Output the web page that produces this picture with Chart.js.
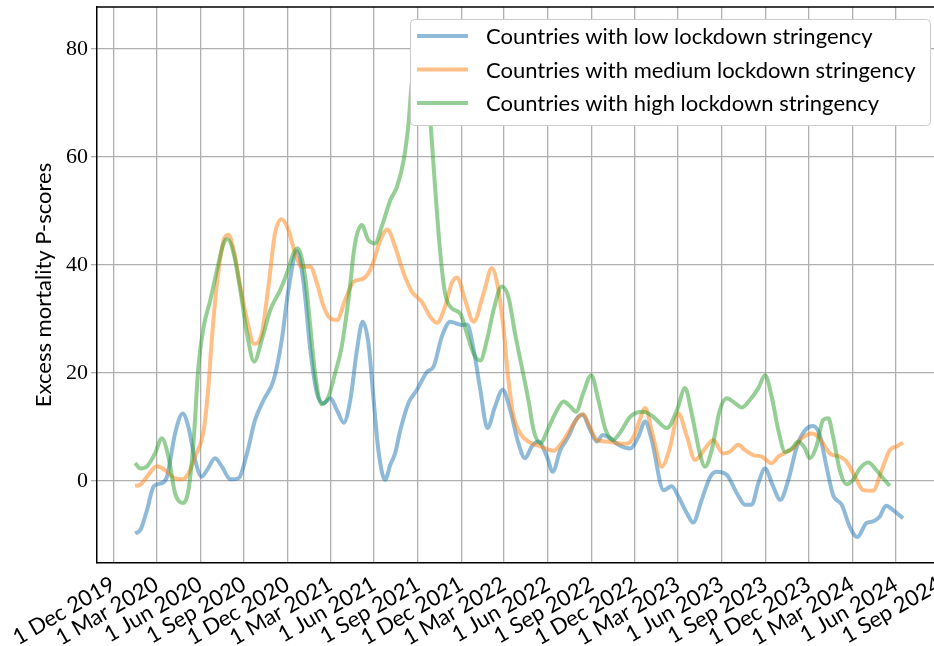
<!DOCTYPE html>
<html lang="en">
<head>
<meta charset="UTF-8">
<title>Excess mortality P-scores by lockdown stringency</title>
<script src="https://cdn.jsdelivr.net/npm/chart.js"></script>
<style>
  html, body { margin: 0; padding: 0; background: #fff; overflow: hidden; }
  #wrap { width: 934px; height: 646px; overflow: hidden; position: relative; }
  #chart { display: block; }
</style>
</head>
<body>
<div id="wrap"><canvas id="chart" width="960" height="646"></canvas></div>
<script>
// x axis ticks (every 3 months) and visible date range
const tickDates = ['2019-12-01','2020-03-01','2020-06-01','2020-09-01','2020-12-01','2021-03-01','2021-06-01',
  '2021-09-01','2021-12-01','2022-03-01','2022-06-01','2022-09-01','2022-12-01','2023-03-01','2023-06-01',
  '2023-09-01','2023-12-01','2024-03-01','2024-06-01','2024-09-01'];
const tickLabels = ['1 Dec 2019','1 Mar 2020','1 Jun 2020','1 Sep 2020','1 Dec 2020','1 Mar 2021','1 Jun 2021',
  '1 Sep 2021','1 Dec 2021','1 Mar 2022','1 Jun 2022','1 Sep 2022','1 Dec 2022','1 Mar 2023','1 Jun 2023',
  '1 Sep 2023','1 Dec 2023','1 Mar 2024','1 Jun 2024','1 Sep 2024'];
const xRange = ['2019-10-28', '2024-09-12'];
const yTicks = [0, 20, 40, 60, 80];

// low stringency
const lowDates = ['2020-01-16','2020-01-27','2020-02-10','2020-02-24','2020-03-12','2020-03-23','2020-04-09','2020-04-25','2020-05-07','2020-05-21',
  '2020-06-04','2020-06-15','2020-07-02','2020-07-16','2020-08-03','2020-08-20','2020-09-07','2020-09-24','2020-10-12','2020-11-02',
  '2020-11-19','2020-12-03','2020-12-21','2021-01-04','2021-01-18','2021-02-01','2021-02-15','2021-03-01','2021-03-15','2021-03-29',
  '2021-04-12','2021-04-26','2021-05-08','2021-05-20','2021-05-31','2021-06-10','2021-06-24','2021-07-05','2021-07-15','2021-07-26',
  '2021-08-12','2021-08-30','2021-09-20','2021-10-04','2021-10-21','2021-11-08','2021-12-02','2021-12-13','2021-12-27','2022-01-10',
  '2022-01-25','2022-02-10','2022-02-26','2022-03-14','2022-03-31','2022-04-14','2022-04-28','2022-05-12','2022-05-30','2022-06-11',
  '2022-06-27','2022-07-14','2022-08-01','2022-08-13','2022-08-29','2022-09-12','2022-09-24','2022-10-10','2022-10-27','2022-11-21',
  '2022-12-08','2022-12-22','2023-01-05',
  '2023-01-30','2023-02-16','2023-03-02','2023-03-20','2023-04-02','2023-04-20','2023-05-08','2023-05-22','2023-06-12','2023-07-03',
  '2023-07-20','2023-08-03','2023-08-17','2023-08-31','2023-09-17','2023-10-02','2023-10-19','2023-11-06','2023-11-23','2023-12-10',
  '2023-12-24','2024-01-07','2024-01-21','2024-02-08','2024-02-25','2024-03-12','2024-03-31','2024-04-14','2024-04-28','2024-05-11',
  '2024-05-26','2024-06-16'];
const lowValues = [-9.7,-9.1,-5.4,-1.0,-0.4,0.8,8.8,12.5,10,3.9,
  0.8,2.0,4.2,2.7,0.3,0.5,5.1,11.3,15,18.7,
  26.1,35.4,42.5,36.6,24.3,16.2,14.4,15.3,13.1,10.8,
  15,24.3,29.5,25.5,15,5.7,0.2,3.0,5.1,9.4,
  14.4,16.9,20.2,21.2,26.7,29.5,28.9,29,24.3,16.9,
  9.8,13.8,16.9,13.1,7.0,4.2,6.4,7.3,4.5,1.7,
  5.7,8.2,11.6,12.2,9.4,7.3,8.5,7.9,6.7,6.0,
  8.2,11.0,7.6,
  -1.7,-1.0,-2.9,-6.0,-7.7,-3.5,0.8,1.7,1.1,-2.3,
  -4.4,-4.4,-0.4,2.3,-1.0,-3.5,0.2,6.4,9.4,10.2,
  8.5,2.7,-2.6,-4.4,-8.5,-10.4,-7.8,-7.5,-6.6,-4.6,
  -5.4,-6.9];

// medium stringency
const mediumDates = ['2020-01-16','2020-01-27','2020-02-10','2020-03-02','2020-03-19','2020-04-06','2020-04-23','2020-05-07','2020-05-21','2020-06-08',
  '2020-06-18','2020-06-25','2020-07-06','2020-07-20','2020-07-30','2020-08-10','2020-08-24','2020-09-07','2020-09-22','2020-10-08',
  '2020-10-22','2020-11-05','2020-11-19','2020-12-03','2020-12-17','2020-12-31','2021-01-18','2021-02-01','2021-02-15','2021-03-01',
  '2021-03-15','2021-04-01','2021-04-19','2021-05-10','2021-05-27','2021-06-14','2021-06-29','2021-07-15','2021-08-02','2021-08-19',
  '2021-09-09','2021-09-27','2021-10-11','2021-10-28','2021-11-11','2021-11-22','2021-12-09','2021-12-27','2022-01-17','2022-02-03',
  '2022-02-17','2022-02-28','2022-03-10','2022-03-21','2022-04-04','2022-04-21','2022-05-16','2022-06-13','2022-06-27','2022-07-11',
  '2022-07-28','2022-08-13','2022-08-29','2022-09-12','2022-10-03','2022-10-24','2022-11-14','2022-11-28','2022-12-12','2022-12-22',
  '2023-01-08','2023-01-26','2023-02-13','2023-03-02','2023-03-20','2023-04-06','2023-04-27','2023-05-14','2023-06-04','2023-06-18',
  '2023-07-06','2023-07-20','2023-08-06','2023-08-24','2023-09-14','2023-09-28','2023-10-16','2023-10-29','2023-11-16','2023-12-07',
  '2023-12-24','2024-01-14','2024-02-04','2024-02-18','2024-03-07','2024-03-24','2024-04-14','2024-05-02','2024-05-19','2024-06-02',
  '2024-06-16'];
const mediumValues = [-0.9,-0.7,0.8,2.7,2.0,0.6,0.3,1.4,4.5,9.4,
  17.5,26.1,36.6,44.6,45.6,42.8,36,29.8,25.4,27.3,
  36,45.9,48.5,46.5,42.2,39.7,39.7,36.6,32.3,30.1,
  29.8,33.5,36.9,37.5,39.7,44.6,46.6,43.4,38.5,35.1,
  33.2,30.4,29.3,32.3,36.6,37.7,33.5,29.5,34.8,39.4,
  35.4,28,18.7,11.9,8.8,7.3,6.4,5.6,6.7,8.5,
  11.0,12.4,9.8,7.6,7.3,7.0,6.9,8.2,11.6,13.5,
  8.2,2.65,6.4,12.5,8.2,3.9,6.0,7.6,5.1,5.4,
  6.7,5.7,4.8,4.5,3.3,4.5,5.4,6.0,7.9,8.8,
  7.9,5.1,4.5,3.6,0.8,-1.7,-1.8,2.0,5.7,6.4,
  7.1];

// high stringency
const highDates = ['2020-01-16','2020-01-27','2020-02-10','2020-02-27','2020-03-12','2020-03-26','2020-04-09','2020-04-25','2020-05-07','2020-05-18',
  '2020-05-28','2020-06-08','2020-06-22','2020-07-06','2020-07-20','2020-07-28','2020-08-10','2020-08-24','2020-09-07','2020-09-22',
  '2020-10-08','2020-10-26','2020-11-16','2020-11-30','2020-12-14','2020-12-22','2021-01-07','2021-01-18','2021-01-28','2021-02-11',
  '2021-02-25','2021-03-11','2021-03-25','2021-04-08','2021-04-22','2021-05-06','2021-05-20','2021-06-03','2021-06-17','2021-07-05',
  '2021-07-19','2021-08-02','2021-08-12','2021-08-19','2021-09-04','2021-09-16','2021-09-27','2021-10-07','2021-10-18','2021-10-28',
  '2021-11-11','2021-11-29','2021-12-13','2021-12-27','2022-01-10','2022-01-24','2022-02-07','2022-02-24','2022-03-10','2022-03-24',
  '2022-04-07','2022-04-21','2022-05-02','2022-05-16','2022-06-02','2022-06-20','2022-07-04','2022-07-18','2022-07-30','2022-08-14',
  '2022-08-31','2022-09-15','2022-09-29','2022-10-16','2022-10-31','2022-11-21','2022-12-18','2023-01-08','2023-02-06','2023-02-27',
  '2023-03-16','2023-03-30','2023-04-16','2023-04-27','2023-05-11','2023-05-28','2023-06-12','2023-06-29','2023-07-13','2023-07-30',
  '2023-08-17','2023-08-31','2023-09-14','2023-09-28','2023-10-12','2023-10-26','2023-11-09','2023-11-23','2023-12-03','2023-12-17',
  '2023-12-31','2024-01-11','2024-01-21','2024-02-04','2024-02-18','2024-03-03','2024-03-17','2024-04-04','2024-04-21','2024-05-05',
  '2024-05-19'];
const highValues = [3.3,2.3,2.7,5.1,7.9,4.5,-2.3,-4.1,-1.7,7.6,
  21.2,28.6,33.5,39.1,44,44.8,42.2,35.4,27.3,22.1,
  26.1,31.7,35.4,38.5,42.2,43.1,37.8,28.6,19.9,14.2,
  15.6,19.9,24.9,33.5,44,47.4,44.6,44,47.1,52,
  54.5,59.4,66,73.6,82,78,66.9,54.5,42.2,34.8,
  32,31,27.3,23.6,22.3,26.1,31.7,36,34.1,27.3,
  21.2,15,9.4,7.0,9.8,13.1,14.7,13.8,12.8,16.2,
  19.6,15,9.8,7.6,9,11.9,12.8,11.9,9.8,13.1,
  17.2,12.5,5.1,2.65,5.7,13.1,15.3,14.4,13.6,15,
  17.2,19.6,15.6,9.4,5.4,6.0,7.3,6.0,4.2,6.4,
  11.3,11.6,8.2,2.0,-0.6,0.2,2.3,3.4,2.0,0.5,
  -0.9];

const toDay = s => Date.UTC(+s.slice(0, 4), +s.slice(5, 7) - 1, +s.slice(8, 10)) / 86400000;
const series = (dates, values) => dates.map((d, i) => ({ x: toDay(d), y: values[i] }));

const serif = "'Liberation Serif', 'DejaVu Serif', serif";
const sans = "Lato, 'DejaVu Sans', sans-serif";

// top spine + legend box drawn over the lines, like matplotlib
const frameAndLegend = {
    id: 'frameAndLegend',
    afterDraw(chart) {
        const { ctx, chartArea } = chart;
        ctx.save();
        ctx.strokeStyle = '#000';
        ctx.lineWidth = 1.5;
        ctx.beginPath();
        ctx.moveTo(chartArea.left, chartArea.top);
        ctx.lineTo(chartArea.right, chartArea.top);
        ctx.stroke();

        const box = { x: 410, y: 19, w: 520, h: 106 };
        ctx.beginPath();
        ctx.roundRect(box.x + 0.5, box.y + 0.5, box.w, box.h, 4);
        ctx.fillStyle = '#fff';
        ctx.fill();
        ctx.strokeStyle = '#cccccc';
        ctx.lineWidth = 1;
        ctx.stroke();

        ctx.font = '22px ' + sans;
        ctx.textBaseline = 'middle';
        ctx.textAlign = 'left';
        chart.data.datasets.forEach((ds, i) => {
            const y = 36 + i * 33.5;
            ctx.strokeStyle = ds.borderColor;
            ctx.lineWidth = 4;
            ctx.beginPath();
            ctx.moveTo(417, y);
            ctx.lineTo(468, y);
            ctx.stroke();
            ctx.fillStyle = '#000';
            ctx.fillText(ds.label, 486, y + 1);
        });
        ctx.restore();
    }
};

const ctx = document.getElementById('chart').getContext('2d');
new Chart(ctx, {
    type: 'line',
    data: {
        datasets: [
            {
                label: 'Countries with low lockdown stringency',
                data: series(lowDates, lowValues),
                borderColor: 'rgba(31, 119, 180, 0.5)',
                order: 2,
            },
            {
                label: 'Countries with medium lockdown stringency',
                data: series(mediumDates, mediumValues),
                borderColor: 'rgba(255, 127, 14, 0.5)',
                order: 1,
            },
            {
                label: 'Countries with high lockdown stringency',
                data: series(highDates, highValues),
                borderColor: 'rgba(44, 160, 44, 0.5)',
                order: 0,
            },
        ],
    },
    options: {
        responsive: false,
        animation: false,
        events: [],
        devicePixelRatio: 1,
        layout: { padding: { left: 0, top: 7, right: 15, bottom: 0 } },
        datasets: {
            line: {
                borderWidth: 4,
                pointRadius: 0,
                fill: false,
                cubicInterpolationMode: 'monotone',
            },
        },
        plugins: {
            legend: { display: false },
            tooltip: { enabled: false },
        },
        scales: {
            x: {
                type: 'linear',
                min: toDay(xRange[0]),
                max: toDay(xRange[1]),
                afterBuildTicks: scale => { scale.ticks = tickDates.map(d => ({ value: toDay(d) })); },
                afterFit: scale => { scale.height = 83; scale.paddingLeft = 0; scale.paddingRight = 0; },
                grid: { color: '#b0b0b0', lineWidth: 1.3, drawTicks: false },
                border: { color: '#000', width: 1.5 },
                ticks: {
                    autoSkip: false,
                    minRotation: 30,
                    maxRotation: 30,
                    padding: 8,
                    color: '#000',
                    font: { family: sans, size: 22 },
                    callback: (value, index) => tickLabels[index],
                },
            },
            y: {
                min: -15.2,
                max: 87.8,
                afterBuildTicks: scale => { scale.ticks = yTicks.map(v => ({ value: v })); },
                afterFit: scale => { scale.width = 97; scale.paddingTop = 0; scale.paddingBottom = 0; },
                grid: { color: '#b0b0b0', lineWidth: 1.3, tickLength: 6 },
                border: { color: '#000', width: 1.5 },
                ticks: {
                    padding: 3,
                    color: '#000',
                    font: { family: serif, size: 22 },
                },
                title: {
                    display: true,
                    text: 'Excess mortality P-scores',
                    color: '#000',
                    font: { family: sans, size: 22 },
                    padding: { top: 31, bottom: 0 },
                },
            },
        },
    },
    plugins: [frameAndLegend],
});
</script>
</body>
</html>
